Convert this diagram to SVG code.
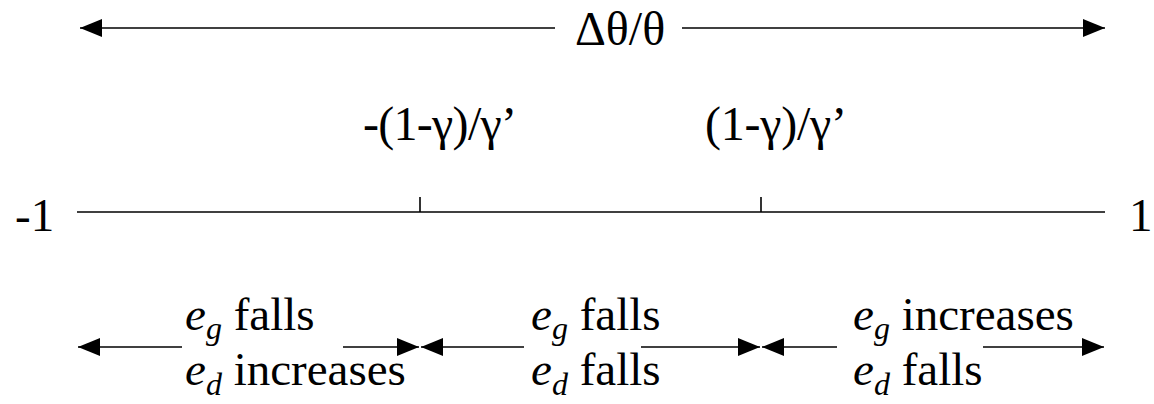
<svg xmlns="http://www.w3.org/2000/svg" width="1154" height="404" viewBox="0 0 1154 404">
<style>
text{font-family:"Liberation Serif","Times New Roman",serif;font-size:47px;fill:#000}
.it{font-style:italic}
.sub{font-style:italic;font-size:32px}
.big{font-size:48px}
.ln{stroke:#000;stroke-width:1.6;fill:none}
.tk{stroke:#000;stroke-width:1.6}
</style>
<defs>
<marker id="ah" markerUnits="userSpaceOnUse" markerWidth="22" markerHeight="18" refX="22" refY="9" orient="auto-start-reverse">
<path d="M0,0 L22,9 L0,18 Z" fill="#000"/>
</marker>
</defs>
<g id="connectors">
<line class="ln" x1="80" y1="28" x2="555" y2="28" marker-start="url(#ah)"/>
<line class="ln" x1="682" y1="28" x2="1105" y2="28" marker-end="url(#ah)"/>
<line class="ln" x1="78" y1="347" x2="182" y2="347" marker-start="url(#ah)"/>
<line class="ln" x1="343" y1="347" x2="419" y2="347" marker-end="url(#ah)"/>
<line class="ln" x1="421" y1="347" x2="524" y2="347" marker-start="url(#ah)"/>
<line class="ln" x1="641" y1="347" x2="760" y2="347" marker-end="url(#ah)"/>
<line class="ln" x1="762" y1="347" x2="837" y2="347" marker-start="url(#ah)"/>
<line class="ln" x1="983" y1="347" x2="1104" y2="347" marker-end="url(#ah)"/>
</g>
<g id="axis">
<line class="ln" x1="77" y1="212" x2="1105" y2="212"/>
<line class="tk" x1="420" y1="197" x2="420" y2="212"/>
<line class="tk" x1="761" y1="197" x2="761" y2="212"/>
<text x="15" y="231">-1</text>
<text x="1129" y="231">1</text>
</g>
<g id="title"><text class="big" x="575" y="45">Δθ/θ</text></g>
<g id="label-neg"><text class="big" x="363" y="140" textLength="154">-(1-γ)/γ’</text></g>
<g id="label-pos"><text class="big" x="705" y="140" textLength="142">(1-γ)/γ’</text></g>
<g id="region-left">
<text x="185" y="330"><tspan class="it">e</tspan><tspan class="sub" dy="9">g</tspan><tspan dy="-9"> falls</tspan></text>
<text x="185" y="385"><tspan class="it">e</tspan><tspan class="sub" dy="10">d</tspan><tspan dy="-10"> increases</tspan></text>
</g>
<g id="region-mid">
<text x="531" y="330"><tspan class="it">e</tspan><tspan class="sub" dy="9">g</tspan><tspan dy="-9"> falls</tspan></text>
<text x="531" y="385"><tspan class="it">e</tspan><tspan class="sub" dy="10">d</tspan><tspan dy="-10"> falls</tspan></text>
</g>
<g id="region-right">
<text x="853" y="330"><tspan class="it">e</tspan><tspan class="sub" dy="9">g</tspan><tspan dy="-9"> increases</tspan></text>
<text x="853" y="385"><tspan class="it">e</tspan><tspan class="sub" dy="10">d</tspan><tspan dy="-10"> falls</tspan></text>
</g>
</svg>
